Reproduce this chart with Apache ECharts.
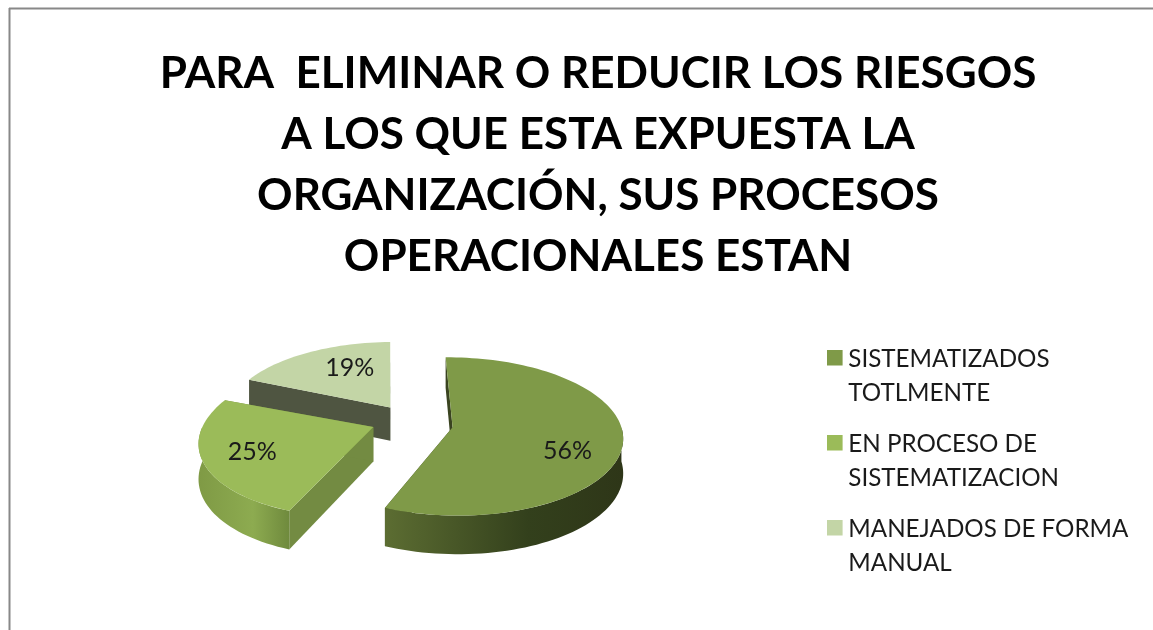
<!DOCTYPE html>
<html>
<head>
<meta charset="utf-8">
<style>html,body{margin:0;padding:0;background:#fff}#c{width:1153px;height:630px}</style>
<script src="https://cdn.jsdelivr.net/npm/echarts@6/dist/echarts.min.js"></script>
</head>
<body>
<div id="c"></div>
<script>
const titleLines = ['PARA  ELIMINAR O REDUCIR LOS RIESGOS', 'A LOS QUE ESTA EXPUESTA LA', 'ORGANIZACIÓN, SUS PROCESOS', 'OPERACIONALES ESTAN'];
const categories = ['SISTEMATIZADOS\nTOTLMENTE', 'EN PROCESO DE\nSISTEMATIZACION', 'MANEJADOS DE FORMA\nMANUAL'];
const values = [56, 25, 19];

const topColors = ['#7f9a48', '#9bbb59', '#c3d5a6'];
const cutColors = ['#3a4420', '#738b42', '#4f5541'];
const sideStops = [
  [[0, '#5c6d32'], [0.6, '#33401c'], [1, '#2e3618']],
  [[0, '#7f9a45'], [0.6, '#8dab50'], [1, '#6f8a3d']],
  [[0, '#6f7a58'], [1, '#5f6a48']]
];
// Per-slice view corrections for the reference's 3D projection
const labelNudge = [[-3, 14], [-5, 1], [20, 0]];
const radii = [168, 169, 166];
const shiftX = [0, -3, 3];
const shiftY = [0, -5, -1];
const shear = [0, 0.14, 0];
const leadTrim = [0, 0, 3];
const tailTrim = [2, 0, 0];

const cx = 411, cy = 424, persp = 0.118, squash = 0.46, drop = 34, explode = 42, startDeg = -1, refR = 172, shearY = 456;
const total = values.reduce((a, b) => a + b, 0);

function pt(i, u, v, z) {
  const s = 1 / (1 - persp * v / refR);
  const y = cy + squash * v * s + shiftY[i];
  const x = cx + u * s + shiftX[i] - shear[i] * (y - shearY);
  return [x, y + (z ? drop * s : 0)];
}
function sliceAngles(i) {
  let before = 0;
  for (let k = 0; k < i; k++) before += values[k];
  const a0 = startDeg + before / total * 360;
  return [a0, a0 + values[i] / total * 360];
}
function dir(deg) {
  const r = deg * Math.PI / 180;
  return [Math.sin(r), -Math.cos(r)];
}
function renderSlice(params, api) {
  const i = params.seriesIndex;
  const val = api.value(0);
  const [a0raw, a1raw] = sliceAngles(i);
  const a0 = a0raw + leadTrim[i], a1 = a1raw + tailTrim[i];
  const mid = dir((a0raw + a1raw) / 2);
  const ox = mid[0] * explode, oy = mid[1] * explode;
  const R = radii[i];
  const rim = (deg, z) => {
    const d = dir(deg);
    return pt(i, ox + d[0] * R, oy + d[1] * R, z);
  };
  const arc = (from, to, z) => {
    const out = [];
    const n = Math.max(2, Math.ceil(Math.abs(to - from) / 2));
    for (let j = 0; j <= n; j++) out.push(rim(from + (to - from) * j / n, z));
    return out;
  };
  const children = [];
  const poly = (points, fill) => children.push({ type: 'polygon', shape: { points }, style: { fill, stroke: null } });
  const apexT = pt(i, ox, oy, false), apexB = pt(i, ox, oy, true);
  // cut faces
  poly([rim(a0, false), apexT, apexB, rim(a0, true)], cutColors[i]);
  poly([rim(a1, false), apexT, apexB, rim(a1, true)], cutColors[i]);
  // front outer wall
  const f0 = Math.max(a0, 90), f1 = Math.min(a1, 270);
  if (f1 > f0) {
    const topArc = arc(f0, f1, false), botArc = arc(f0, f1, true).reverse();
    const xs = topArc.map(p => p[0]);
    const colorStops = sideStops[i].map(s => ({ offset: s[0], color: s[1] }));
    poly(topArc.concat(botArc), {
      type: 'linear', global: true,
      x: Math.min.apply(null, xs), y: 0, x2: Math.max.apply(null, xs), y2: 0,
      colorStops
    });
  }
  // top face
  poly([apexT].concat(arc(a0, a1, false)), topColors[i]);
  // label
  const lp = pt(i, ox + mid[0] * refR * 0.68, oy + mid[1] * refR * 0.68, false);
  children.push({
    type: 'text',
    style: {
      text: Math.round(val / total * 100) + '%',
      x: lp[0] + labelNudge[i][0], y: lp[1] + labelNudge[i][1],
      align: 'center', verticalAlign: 'middle',
      fill: '#1a1a1a', font: '25px Lato'
    }
  });
  return { type: 'group', children };
}

const chart = echarts.init(document.getElementById('c'), null, { renderer: 'canvas' });
chart.setOption({
  animation: false,
  backgroundColor: '#ffffff',
  title: {
    text: titleLines.join('\n'),
    left: 593, top: 38, textAlign: 'center',
    textStyle: { fontFamily: 'Lato', fontWeight: 'bold', fontSize: 44, lineHeight: 61, color: '#000000' }
  },
  legend: {
    orient: 'vertical', left: 822, top: 337,
    itemWidth: 17, itemHeight: 52, itemGap: 17,
    icon: 'path://M0 0H15V15H0Z M0 50H15',
    textStyle: { fontFamily: 'Lato', fontSize: 24.2, lineHeight: 34, color: '#1a1a1a' },
    data: categories
  },
  graphic: [
    { type: 'line', shape: { x1: 9, y1: 8.5, x2: 1153, y2: 8.5 }, style: { stroke: '#888888', lineWidth: 2 } },
    { type: 'line', shape: { x1: 9.5, y1: 8, x2: 9.5, y2: 630 }, style: { stroke: '#888888', lineWidth: 2 } }
  ],
  series: categories.map((name, i) => ({
    type: 'custom',
    name,
    coordinateSystem: 'none',
    z: 10 - i,
    itemStyle: { color: topColors[i] },
    renderItem: renderSlice,
    data: [[values[i]]]
  }))
});
</script>
</body>
</html>
